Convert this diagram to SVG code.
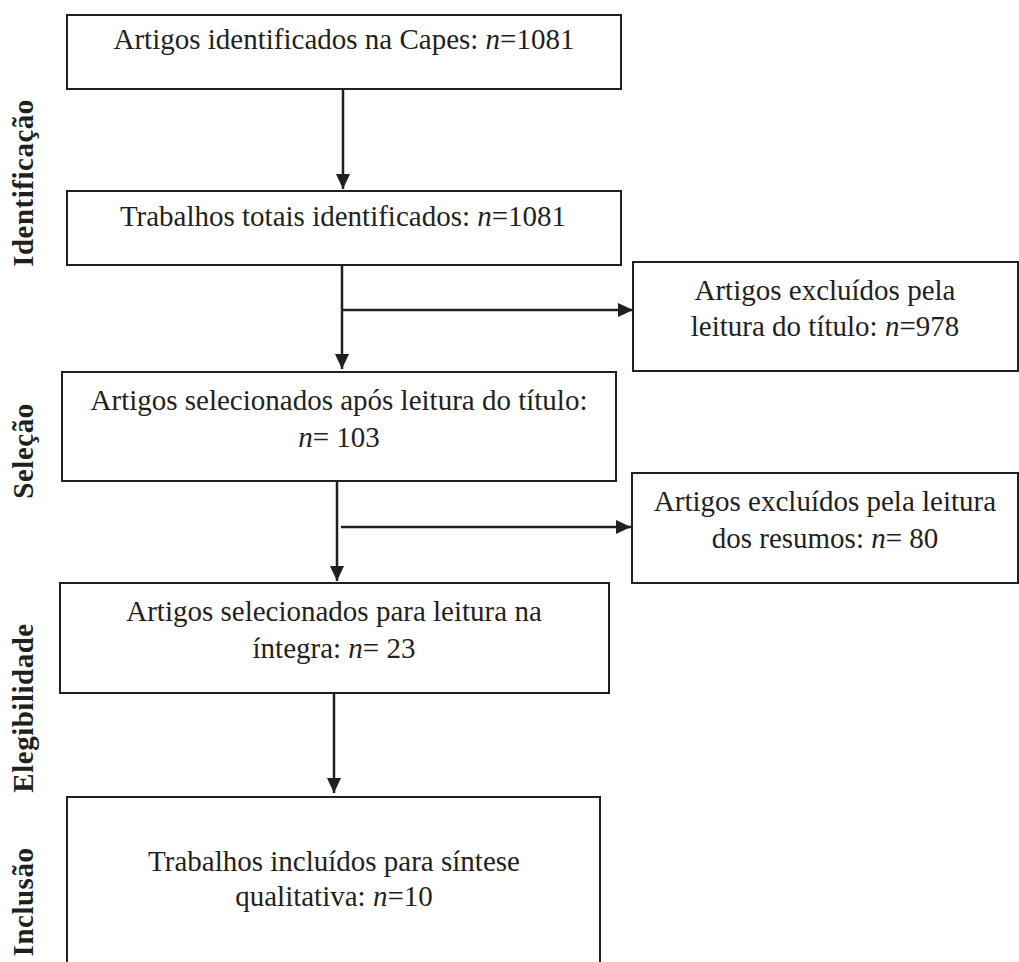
<svg xmlns="http://www.w3.org/2000/svg" width="1019" height="962" viewBox="0 0 1019 962">
<style>
.box{fill:#fff;stroke:#231f20;stroke-width:2}
.t{font-family:"Liberation Serif","Times New Roman",serif;font-size:29px;fill:#231f20;text-anchor:middle}
.lbl{font-family:"Liberation Serif","Times New Roman",serif;font-size:29px;font-weight:bold;fill:#231f20;text-anchor:middle;letter-spacing:0.5px}
.c{stroke:#231f20;stroke-width:2.5;fill:none}
.i{font-style:italic}
</style>
<defs>
<marker id="ah2" viewBox="0 0 15 14" refX="15" refY="7" markerWidth="15" markerHeight="14" orient="auto" markerUnits="userSpaceOnUse">
<path d="M0,0 L15,7 L0,14 Z" fill="#231f20"/>
</marker>
</defs>
<rect width="1019" height="962" fill="#fff"/>
<g id="labels">
<text class="lbl" transform="translate(33,183) rotate(-90)">Identificação</text>
<text class="lbl" transform="translate(33,451) rotate(-90)">Seleção</text>
<text class="lbl" transform="translate(33,708) rotate(-90)">Elegibilidade</text>
<text class="lbl" transform="translate(33,902) rotate(-90)">Inclusão</text>
</g>
<g id="n1"><rect class="box" x="67" y="15" width="554" height="74"/>
<text class="t" x="344" y="49">Artigos identificados na Capes: <tspan class="i">n</tspan>=1081</text></g>
<g id="n2"><rect class="box" x="67" y="191" width="554" height="74"/>
<text class="t" x="343" y="226">Trabalhos totais identificados: <tspan class="i">n</tspan>=1081</text></g>
<g id="n3"><rect class="box" x="633" y="262" width="385" height="109"/>
<text class="t" x="825" y="300">Artigos excluídos pela</text>
<text class="t" x="825" y="336">leitura do título: <tspan class="i">n</tspan>=978</text></g>
<g id="n4"><rect class="box" x="62" y="372" width="554" height="109"/>
<text class="t" x="339" y="410">Artigos selecionados após leitura do título:</text>
<text class="t" x="339" y="447"><tspan class="i">n</tspan>= 103</text></g>
<g id="n5"><rect class="box" x="632" y="473" width="386" height="110"/>
<text class="t" x="825" y="511">Artigos excluídos pela leitura</text>
<text class="t" x="825" y="548">dos resumos: <tspan class="i">n</tspan>= 80</text></g>
<g id="n6"><rect class="box" x="60" y="583" width="549" height="110"/>
<text class="t" x="334" y="621">Artigos selecionados para leitura na</text>
<text class="t" x="334" y="658">íntegra: <tspan class="i">n</tspan>= 23</text></g>
<g id="n7"><rect class="box" x="67" y="797" width="533" height="180"/>
<text class="t" x="334" y="871">Trabalhos incluídos para síntese</text>
<text class="t" x="334" y="906">qualitativa: <tspan class="i">n</tspan>=10</text></g>
<g id="connectors">
<line class="c" x1="343" y1="89" x2="343" y2="189" marker-end="url(#ah2)"/>
<line class="c" x1="342" y1="265" x2="342" y2="369" marker-end="url(#ah2)"/>
<line class="c" x1="342" y1="310" x2="633" y2="310" marker-end="url(#ah2)"/>
<line class="c" x1="337" y1="481" x2="337" y2="581" marker-end="url(#ah2)"/>
<line class="c" x1="341" y1="527" x2="631" y2="527" marker-end="url(#ah2)"/>
<line class="c" x1="334" y1="693" x2="334" y2="793" marker-end="url(#ah2)"/>
</g>
</svg>
